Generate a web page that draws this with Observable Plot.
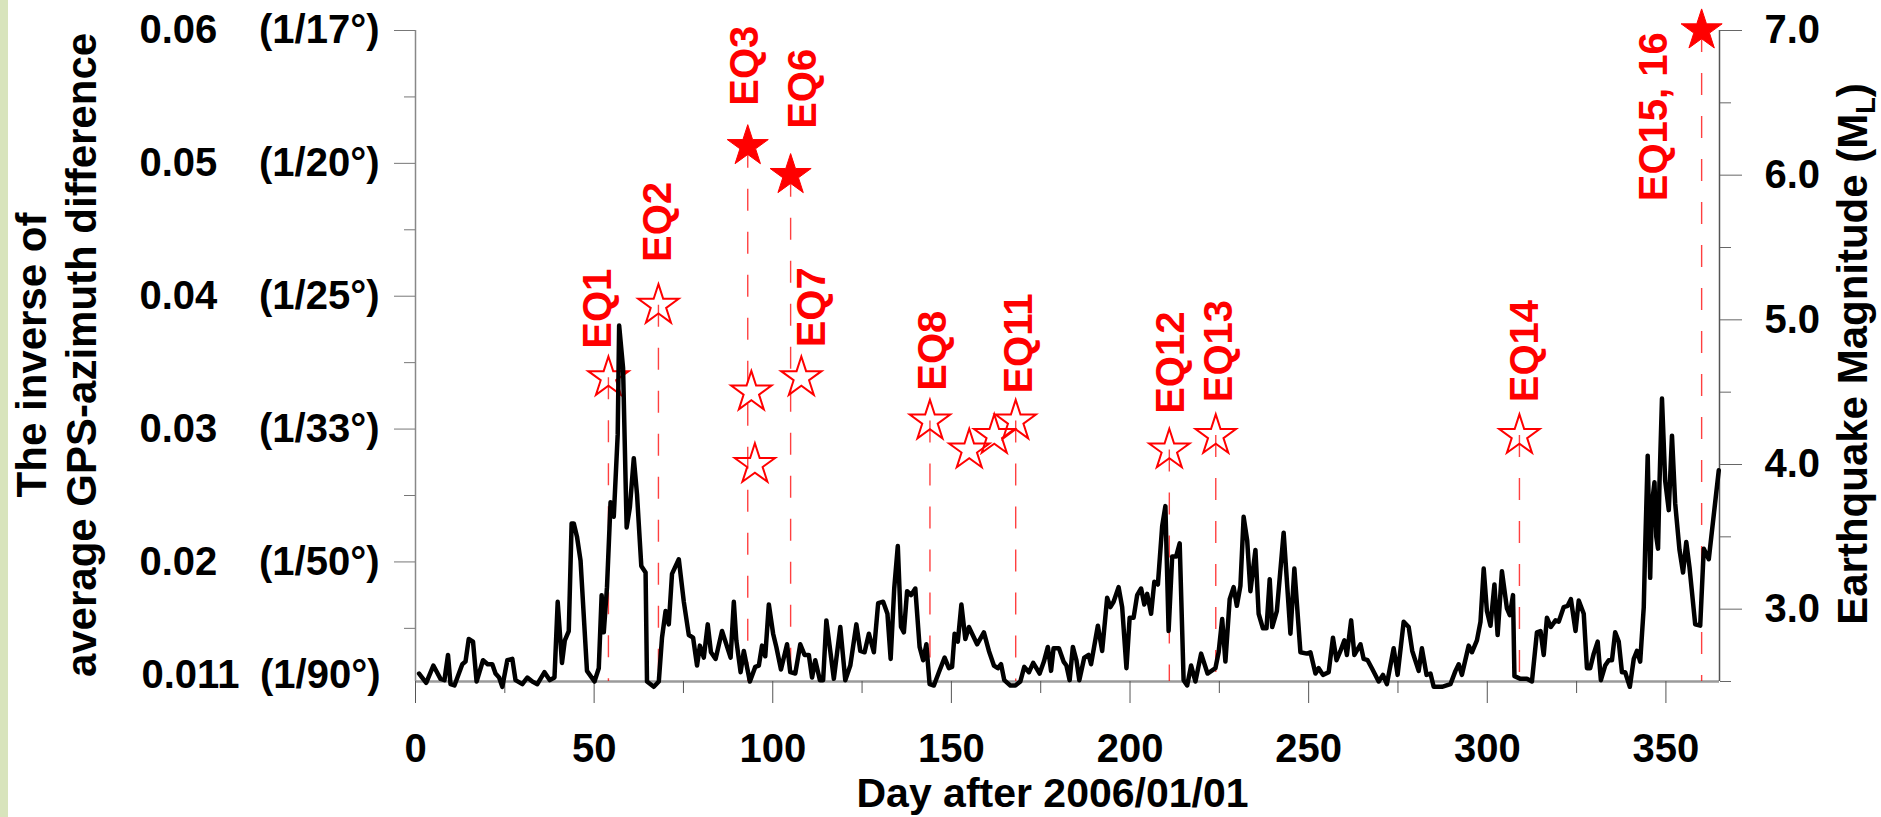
<!DOCTYPE html>
<html><head><meta charset="utf-8">
<script src="https://cdn.jsdelivr.net/npm/d3@7"></script>
<script src="https://cdn.jsdelivr.net/npm/@observablehq/plot@0.6"></script>
<style>
html,body{margin:0;padding:0;background:#fff;}
#wrap{position:relative;width:1881px;height:817px;overflow:hidden;}
#strip{position:absolute;left:0;top:0;width:8px;height:817px;background:#d8e4bc;z-index:2;}
</style></head><body><div id="wrap"><div id="strip"></div></div>
<script>
// ---- data ----
// [day after 2006/01/01, inverse of average GPS-azimuth difference]
const gpsSeries = [
[1,.0116],[3,.0109],[5,.0122],[7,.0112],[8.1,.0111],[9.1,.0130],[9.8,.0108],[10.9,.0107],[13.1,.0123],[14,.0125],[14.9,.0142],[16.1,.0140],[17.1,.0110],[18.9,.0126],[20.2,.0123],[21.5,.0123],[22.4,.0116],[23.4,.0113],[24.3,.0106],[25.7,.0126],[27.1,.0127],[28,.0111],[29.9,.0108],[31.3,.0113],[32.7,.0110],[34.1,.0108],[36.1,.0117],[37.6,.0111],[38.9,.0113],[39.8,.0170],[41,.0124],[41.8,.0141],[42.9,.0148],[43.7,.0229],[44.3,.0229],[45.2,.0219],[46.2,.0201],[48,.0118],[50.1,.0110],[51.3,.0120],[52.1,.0175],[52.7,.0147],[53.6,.0181],[54.6,.0245],[55.5,.0234],[56.6,.0296],[57,.0378],[58.1,.0346],[59.1,.0226],[60,.0241],[61.1,.0278],[62,.0251],[63.2,.0197],[64.4,.0192],[64.8,.0110],[66.7,.0106],[68.1,.0110],[69,.0143],[70,.0163],[70.9,.0153],[71.8,.0191],[73.7,.0202],[75.1,.0170],[76.5,.0145],[77.7,.0143],[78.8,.0122],[79.6,.0137],[80.7,.0128],[81.8,.0153],[82.7,.0132],[84,.0127],[85.8,.0148],[88.2,.0128],[89.1,.0170],[89.8,.0141],[91,.0117],[91.9,.0133],[93.6,.0110],[95.1,.0121],[96.1,.0122],[97,.0137],[97.9,.0129],[98.9,.0168],[100.1,.0146],[101,.0136],[102.3,.0119],[104,.0138],[104.9,.0117],[106.3,.0116],[107.7,.0138],[108.9,.0130],[110.1,.0130],[111,.0113],[111.9,.0126],[113.2,.0111],[114.1,.0111],[115,.0156],[116.1,.0133],[117.1,.0112],[118.9,.0151],[120.3,.0111],[121.7,.0122],[123.4,.0153],[124.5,.0133],[125.7,.0132],[126.9,.0146],[128.3,.0132],[129.5,.0169],[130.9,.0170],[132.1,.0161],[133,.0127],[134,.0180],[135,.0212],
[135.9,.0151],[136.7,.0147],[137.6,.0178],[138.7,.0175],[139.9,.0180],[141.1,.0136],[142.1,.0126],[143,.0138],[143.9,.0108],[145.1,.0107],[146.5,.0117],[148.1,.0128],[149.3,.0120],[150.2,.0121],[150.9,.0146],[151.8,.0140],[152.8,.0168],[153.9,.0142],[154.9,.0151],[157.2,.0138],[159.1,.0147],[160.5,.0133],[161.9,.0122],[163,.0120],[163.9,.0123],[164.8,.0111],[166.5,.0107],[167.9,.0107],[169.3,.0110],[170.4,.0121],[171.7,.0117],[172.9,.0124],[174.7,.0116],[175.9,.0125],[177,.0136],[177.9,.0118],[178.6,.0135],[180.1,.0135],[181.4,.0125],[182.2,.0122],[183.1,.0111],[184,.0136],[185,.0126],[185.8,.0111],[187.2,.0128],[188.4,.0130],[189.1,.0123],[191,.0152],[192.2,.0133],[193.6,.0173],[194.5,.0166],[195.4,.0170],[196.8,.0181],[197.8,.0166],[199,.0120],[199.9,.0158],[201,.0158],[202,.0175],[203.1,.0180],[204,.0168],[204.8,.0176],[205.9,.0161],[206.8,.0185],[207.8,.0183],[209,.0227],[209.9,.0242],[210.8,.0148],[211.8,.0204],[212.9,.0204],[213.9,.0214],[215,.0111],[216,.0107],[217.1,.0122],[218.3,.0110],[219.9,.0131],[221.7,.0116],[223.9,.0120],[224.8,.0132],[225.8,.0157],[226.7,.0125],[227.9,.0172],[229,.0181],[229.9,.0167],[230.9,.0182],[231.8,.0234],[232.8,.0216],[233.7,.0178],[235.1,.0209],[236,.0161],[237.2,.0150],[238.2,.0150],[239.1,.0187],[239.8,.0151],[241.1,.0163],[243,.0222],[244.9,.0146],[246,.0195],[247.7,.0132],[249.5,.0131],[250.5,.0132],[251.9,.0116],[252.8,.0120],[254,.0115],[255.6,.0117],[256.8,.0143],[257.8,.0126],[258.9,.0133],[260,.0141],[260.7,.0130],[261.9,.0156],[262.8,.0130],[264.5,.0138],
[265.4,.0127],[266.5,.0126],[267.7,.0120],[269.6,.0110],[270.8,.0115],[271.9,.0108],[273.8,.0135],[274.9,.0115],[276.6,.0155],[278,.0151],[279,.0133],[280.8,.0118],[281.7,.0135],[283,.0115],[284.1,.0116],[285,.0106],[287.3,.0106],[289.7,.0108],[291.1,.0118],[292,.0123],[292.9,.0115],[294.8,.0137],[295.7,.0132],[297.1,.0141],[298.1,.0155],[299,.0195],[299.9,.0163],[300.9,.0152],[302,.0183],[302.9,.0145],[304.1,.0193],[305.5,.0165],[306.3,.0160],[307.2,.0175],[307.6,.0114],[309.3,.0112],[311.1,.0112],[312.5,.0110],[313.9,.0147],[314.9,.0148],[315.8,.0130],[316.7,.0158],[317.8,.0151],[319.1,.0156],[320,.0155],[321.4,.0166],[322.5,.0167],[323.4,.0172],[324.7,.0148],[325.6,.0171],[327,.0161],[327.9,.0120],[328.8,.0120],[329.8,.0131],[330.9,.0140],[331.8,.0111],[333,.0122],[334,.0126],[334.9,.0126],[335.8,.0147],[336.8,.0140],[337.7,.0117],[338.6,.0117],[339.9,.0106],[341,.0127],[341.9,.0133],[342.8,.0125],[343.8,.0166],[344.2,.0211],[344.9,.0280],[345.6,.0188],[346.1,.0244],[346.8,.0260],[347.3,.0219],[347.8,.0210],[348.2,.0259],[348.9,.0323],[349.8,.0261],[350.8,.0239],[351.7,.0295],[352.6,.0244],[353.8,.0209],[354.8,.0192],[355.7,.0215],[356.6,.0196],[358.2,.0153],[359.6,.0152],[360.6,.0210],[362,.0202],[364.8,.0269]
];

// earthquakes
const eqNames = ["EQ1","EQ2","EQ3","EQ4","EQ5","EQ6","EQ7","EQ8","EQ9","EQ10","EQ11","EQ12","EQ13","EQ14","EQ15, 16"];
const eqDays  = [54, 68, 93, 94, 95, 105, 108, 144, 155, 162, 168, 211, 224, 309, 360];
const eqMags  = [4.6, 5.1, 6.2, 4.5, 4.0, 6.0, 4.6, 4.3, 4.1, 4.2, 4.3, 4.1, 4.2, 4.2, 7.0];
const dashedFor = ["EQ1","EQ2","EQ3","EQ6","EQ8","EQ11","EQ12","EQ13","EQ14","EQ15, 16"];

// annotation labels (text start position, in day / magnitude)
const labelNames = ["EQ1","EQ2","EQ3","EQ6","EQ7","EQ8","EQ11","EQ12","EQ13","EQ14","EQ15, 16"];
const labelDays  = [51.0, 68.0, 92.3, 108.4, 110.9, 144.8, 169.0, 211.5, 225.0, 310.6, 346.8];
const labelMags  = [4.80, 5.40, 6.48, 6.32, 4.81, 4.51, 4.49, 4.35, 4.43, 4.43, 5.82];

// axes
const leftTickValues = [0.011, 0.02, 0.03, 0.04, 0.05, 0.06];
const leftTickNums   = ["0.011", "0.02", "0.03", "0.04", "0.05", "0.06"];
const leftTickDeg    = ["(1/90°)", "(1/50°)", "(1/33°)", "(1/25°)", "(1/20°)", "(1/17°)"];
const leftMajor = [0.02, 0.03, 0.04, 0.05, 0.06];
const leftMinor = [0.015, 0.025, 0.035, 0.045, 0.055];
const magMajor = [3.0, 4.0, 5.0, 6.0, 7.0];
const magMinor = [2.5, 3.5, 4.5, 5.5, 6.5];
const xMajor = [0, 50, 100, 150, 200, 250, 300, 350];
const xMinor = [25, 75, 125, 175, 225, 275, 325];
const yDomain = [0.011, 0.06];
const magDomain = [2.5, 7.0];

// ---- build ----
const toY = m => yDomain[0] + (m - magDomain[0]) * (yDomain[1] - yDomain[0]) / (magDomain[1] - magDomain[0]);
const fromY = y => magDomain[0] + (y - yDomain[0]) * (magDomain[1] - magDomain[0]) / (yDomain[1] - yDomain[0]);

const quakes = eqNames.map((name, i) => ({name, day: eqDays[i], mag: eqMags[i]}));
const labels = labelNames.map((name, i) => ({name, day: labelDays[i], mag: labelMags[i]}));
const leftLabels = leftTickValues.map((v, i) => ({v, num: leftTickNums[i], deg: leftTickDeg[i]}));
const leftBottom = leftLabels.filter(d => d.v === yDomain[0]);
const leftOthers = leftLabels.filter(d => d.v !== yDomain[0]);

const FONT = "'Liberation Sans', Arial, Helvetica, sans-serif";
const RED = "#ff0000";
const lblStyle = {fontSize: 40, fontWeight: "bold", fill: "black", frameAnchor: "left"};

const plot = Plot.plot({
  width: 1881, height: 817,
  marginLeft: 415, marginRight: 162, marginTop: 30, marginBottom: 136,
  x: {domain: [0, 365], axis: null},
  y: {domain: yDomain, axis: null},
  style: {fontFamily: FONT, fontSize: "40px", fontWeight: "bold", color: "black", background: "white", overflow: "visible"},
  marks: [
    // axis lines
    Plot.ruleY([yDomain[0]], {x1: 0, x2: 365, stroke: "#9a9a9a", strokeWidth: 2.5}),
    Plot.ruleX([0], {y1: yDomain[0], y2: yDomain[1], stroke: "#888", strokeWidth: 1.5}),
    Plot.ruleX([365], {y1: yDomain[0], y2: yDomain[1], stroke: "#555", strokeWidth: 1.5}),
    // left ticks
    Plot.axisY(leftMajor, {anchor: "left", tickSize: 21, tickFormat: () => "", stroke: "#777", label: null}),
    Plot.axisY(leftMinor, {anchor: "left", tickSize: 11, tickFormat: () => "", stroke: "#777", label: null}),
    Plot.text(leftOthers, {...lblStyle, y: "v", dx: -276, textAnchor: "start", text: "num"}),
    Plot.text(leftOthers, {...lblStyle, y: "v", dx: -36, textAnchor: "end", text: "deg"}),
    Plot.text(leftBottom, {...lblStyle, y: "v", dx: -274, dy: -6, textAnchor: "start", text: "num"}),
    Plot.text(leftBottom, {...lblStyle, y: "v", dx: -35, dy: -6, textAnchor: "end", text: "deg"}),
    // right magnitude axis
    Plot.axisY(magMajor.map(toY), {anchor: "right", tickSize: 22, tickPadding: 23, tickFormat: y => fromY(y).toFixed(1), stroke: "#666", fill: "black", fontSize: 40, fontWeight: "bold", label: null}),
    Plot.axisY(magMinor.map(toY), {anchor: "right", tickSize: 11, tickFormat: () => "", stroke: "#666", label: null}),
    // x axis
    Plot.axisX(xMajor, {anchor: "bottom", tickSize: 22, tickPadding: 30, stroke: "#555", fill: "black", fontSize: 40, fontWeight: "bold", label: null}),
    Plot.axisX(xMinor, {anchor: "bottom", tickSize: 12, tickFormat: () => "", stroke: "#555", label: null}),
    // dashed earthquake markers
    Plot.ruleX(quakes.filter(d => dashedFor.includes(d.name)), {x: "day", y1: d => toY(d.mag), y2: yDomain[0], stroke: RED, strokeWidth: 1.4, strokeOpacity: 0.75, strokeDasharray: "22,21"}),
    // stars
    Plot.dot(quakes.filter(d => d.mag < 6), {x: "day", y: d => toY(d.mag), symbol: "star", r: 12.7, fill: "none", stroke: RED, strokeWidth: 2}),
    Plot.dot(quakes.filter(d => d.mag >= 6), {x: "day", y: d => toY(d.mag), symbol: "star", r: 12.9, fill: RED, stroke: RED, strokeWidth: 1}),
    // data line
    Plot.line(gpsSeries, {x: d => d[0], y: d => d[1], stroke: "black", strokeWidth: 4.5, strokeLinejoin: "round", strokeLinecap: "round"}),
    // EQ labels
    Plot.text(labels, {x: "day", y: d => toY(d.mag), text: "name", rotate: -90, textAnchor: "start", lineAnchor: "middle", fill: RED, fontSize: 40, fontWeight: "bold"}),
    // titles
    Plot.text(["The inverse of\naverage GPS-azimuth difference"], {text: d => d, frameAnchor: "left", dx: -406, dy: -1, rotate: -90, lineAnchor: "top", lineHeight: 1.21, textAnchor: "middle", fontSize: 42, fontWeight: "bold", fill: "black"}),
    Plot.text(["Earthquake Magnitude (ML)"], {text: d => d, frameAnchor: "right", dx: 134, dy: -2, rotate: -90, lineAnchor: "middle", textAnchor: "middle", fontSize: 42, fontWeight: "bold", fill: "black"}),
    Plot.text(["Day after 2006/01/01"], {text: d => d, frameAnchor: "bottom", dx: -15, dy: 125, lineAnchor: "bottom", textAnchor: "middle", fontSize: 41, fontWeight: "bold", fill: "black"})
  ]
});

document.getElementById("wrap").appendChild(plot);

// subscript L in the magnitude title
d3.select(plot).selectAll("text").filter(function() { return this.textContent === "Earthquake Magnitude (ML)"; })
  .each(function() {
    const t = d3.select(this);
    t.text(null);
    t.append("tspan").text("Earthquake Magnitude (M");
    t.append("tspan").attr("font-size", "27px").attr("dy", "8").text("L");
    t.append("tspan").attr("dy", "-8").text(")");
  });
</script>
</body></html>
